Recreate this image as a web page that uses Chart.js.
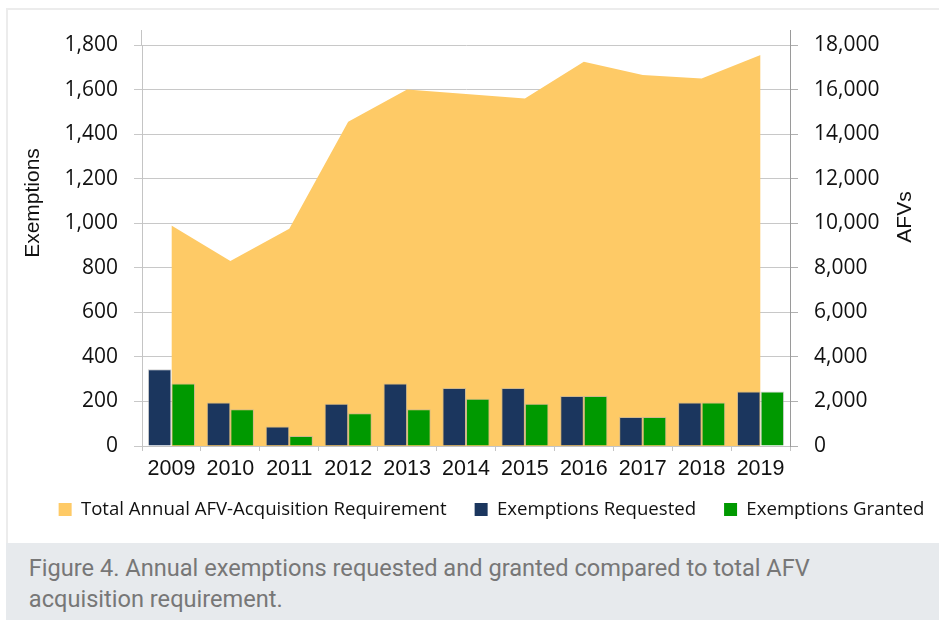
<!DOCTYPE html>
<html><head><meta charset="utf-8">
<script src="https://cdn.jsdelivr.net/npm/chart.js@4.4.1/dist/chart.umd.min.js"></script>
<style>
html,body{margin:0;padding:0;background:#fff;width:939px;height:620px;overflow:hidden;}
#frame{position:absolute;left:6px;top:8px;width:933px;height:535px;border-top:2px solid #ececec;border-left:2px solid #ececec;box-sizing:border-box;}
#chart{position:absolute;left:8px;top:10px;}
#caption{position:absolute;left:6px;top:543px;width:933px;height:77px;background:#E7EAED;box-sizing:border-box;padding:10.2px 0 0 22.8px;font-family:Roboto,'Liberation Sans',sans-serif;font-size:23.6px;line-height:30.5px;color:#777;white-space:nowrap;}
</style></head><body>
<div id="frame"></div>
<canvas id="chart" width="931" height="533"></canvas>
<div id="caption">Figure 4. Annual exemptions requested and granted compared to total AFV<br>acquisition requirement.</div>
<script>
const years = ['2009','2010','2011','2012','2013','2014','2015','2016','2017','2018','2019'];
const totalRequirement = [9900, 8300, 9750, 14550, 16000, 15800, 15600, 17250, 16650, 16500, 17550];
const exemptionsRequested = [345, 195, 87, 190, 280, 260, 260, 225, 130, 195, 245];
const exemptionsGranted = [280, 165, 45, 147, 165, 212, 190, 225, 130, 195, 245];
const leftAxisMax = 1800, leftAxisStep = 200;
const rightAxisMax = 18000, rightAxisStep = 2000;
const seriesNames = ['Total Annual AFV-Acquisition Requirement', 'Exemptions Requested', 'Exemptions Granted'];
const axisTitles = ['Exemptions', 'AFVs'];

const fmt = v => Number(v).toLocaleString('en-US');

const extras = {
  id: 'extras',
  afterLayout(chart) {
    const l = chart.legend;
    l.left += 18; l.right += 18;
    l.top -= 13.8; l.bottom -= 13.8;
  },
  afterDraw(chart) {
    const {ctx, chartArea: a} = chart;
    ctx.save();
    ctx.lineWidth = 1;
    ctx.strokeStyle = '#c4c4c4';
    ctx.beginPath(); ctx.moveTo(a.left - 0.5, a.top - 15); ctx.lineTo(a.left - 0.5, a.top); ctx.stroke();
    ctx.strokeStyle = '#9a9a9a';
    ctx.beginPath(); ctx.moveTo(a.right + 0.5, a.top - 15); ctx.lineTo(a.right + 0.5, a.top); ctx.stroke();
    ctx.fillStyle = '#111';
    ctx.font = '21px "Liberation Sans", Arial, sans-serif';
    ctx.textAlign = 'center'; ctx.textBaseline = 'middle';
    ctx.translate(25, 193); ctx.rotate(-Math.PI / 2); ctx.fillText(axisTitles[0], 0, 0);
    ctx.setTransform(1, 0, 0, 1, 0, 0);
    ctx.translate(897, 207); ctx.rotate(-Math.PI / 2); ctx.fillText(axisTitles[1], 0, 0);
    ctx.restore();
  }
};

new Chart(document.getElementById('chart'), {
  type: 'bar',
  data: {
    labels: years,
    datasets: [
      { type: 'line', label: seriesNames[0], data: totalRequirement, yAxisID: 'y1', order: 2,
        backgroundColor: '#FECA66', borderColor: '#FECA66', borderWidth: 0, fill: 'origin',
        pointRadius: 0, tension: 0 },
      { label: seriesNames[1], data: exemptionsRequested, yAxisID: 'y', order: 1,
        backgroundColor: '#1B365E', borderColor: 'rgba(170,170,170,0.55)', borderWidth: 1,
        categoryPercentage: 0.8, barPercentage: 1.0 },
      { label: seriesNames[2], data: exemptionsGranted, yAxisID: 'y', order: 1,
        backgroundColor: '#009900', borderColor: 'rgba(170,170,170,0.55)', borderWidth: 1,
        categoryPercentage: 0.8, barPercentage: 1.0 }
    ]
  },
  options: {
    responsive: false,
    animation: false,
    devicePixelRatio: 1,
    layout: { padding: { top: 35, left: 0, right: 0, bottom: 0.4 } },
    plugins: {
      tooltip: { enabled: false },
      legend: {
        position: 'bottom',
        labels: {
          boxWidth: 13, boxHeight: 13, padding: 28, color: '#111',
          font: { family: '"Open Sans", sans-serif', size: 18.6 },
          sort: (a, b) => a.datasetIndex - b.datasetIndex,
          generateLabels(chart) {
            return Chart.defaults.plugins.legend.labels.generateLabels(chart).map(it => {
              it.lineWidth = 0; it.strokeStyle = 'rgba(0,0,0,0)'; return it;
            });
          }
        }
      }
    },
    scales: {
      x: {
        grid: { offset: true, drawOnChartArea: false, drawTicks: true, tickLength: 5, color: '#c4c4c4' },
        border: { color: '#c4c4c4' },
        ticks: { color: '#111', padding: 5.6, font: { family: '"Liberation Sans", Arial, sans-serif', size: 21.5 } },
        afterFit(s) { s.height = 40; }
      },
      y: {
        position: 'left', min: 0, max: leftAxisMax,
        grid: { color: '#c8c8c8', tickLength: 8 },
        border: { color: '#c4c4c4' },
        ticks: { stepSize: leftAxisStep, padding: 16, color: '#111', callback: fmt,
                 font: { family: '"Open Sans", sans-serif', size: 21 } },
        afterFit(s) { s.width = 134; }
      },
      y1: {
        position: 'right', min: 0, max: rightAxisMax,
        grid: { drawOnChartArea: false, tickLength: 8, color: '#b0b0b0' },
        border: { color: '#9a9a9a' },
        ticks: { stepSize: rightAxisStep, padding: 16, color: '#111', callback: fmt,
                 font: { family: '"Open Sans", sans-serif', size: 21 } },
        afterFit(s) { s.width = 149; }
      }
    }
  },
  plugins: [extras]
});
</script>
</body></html>
